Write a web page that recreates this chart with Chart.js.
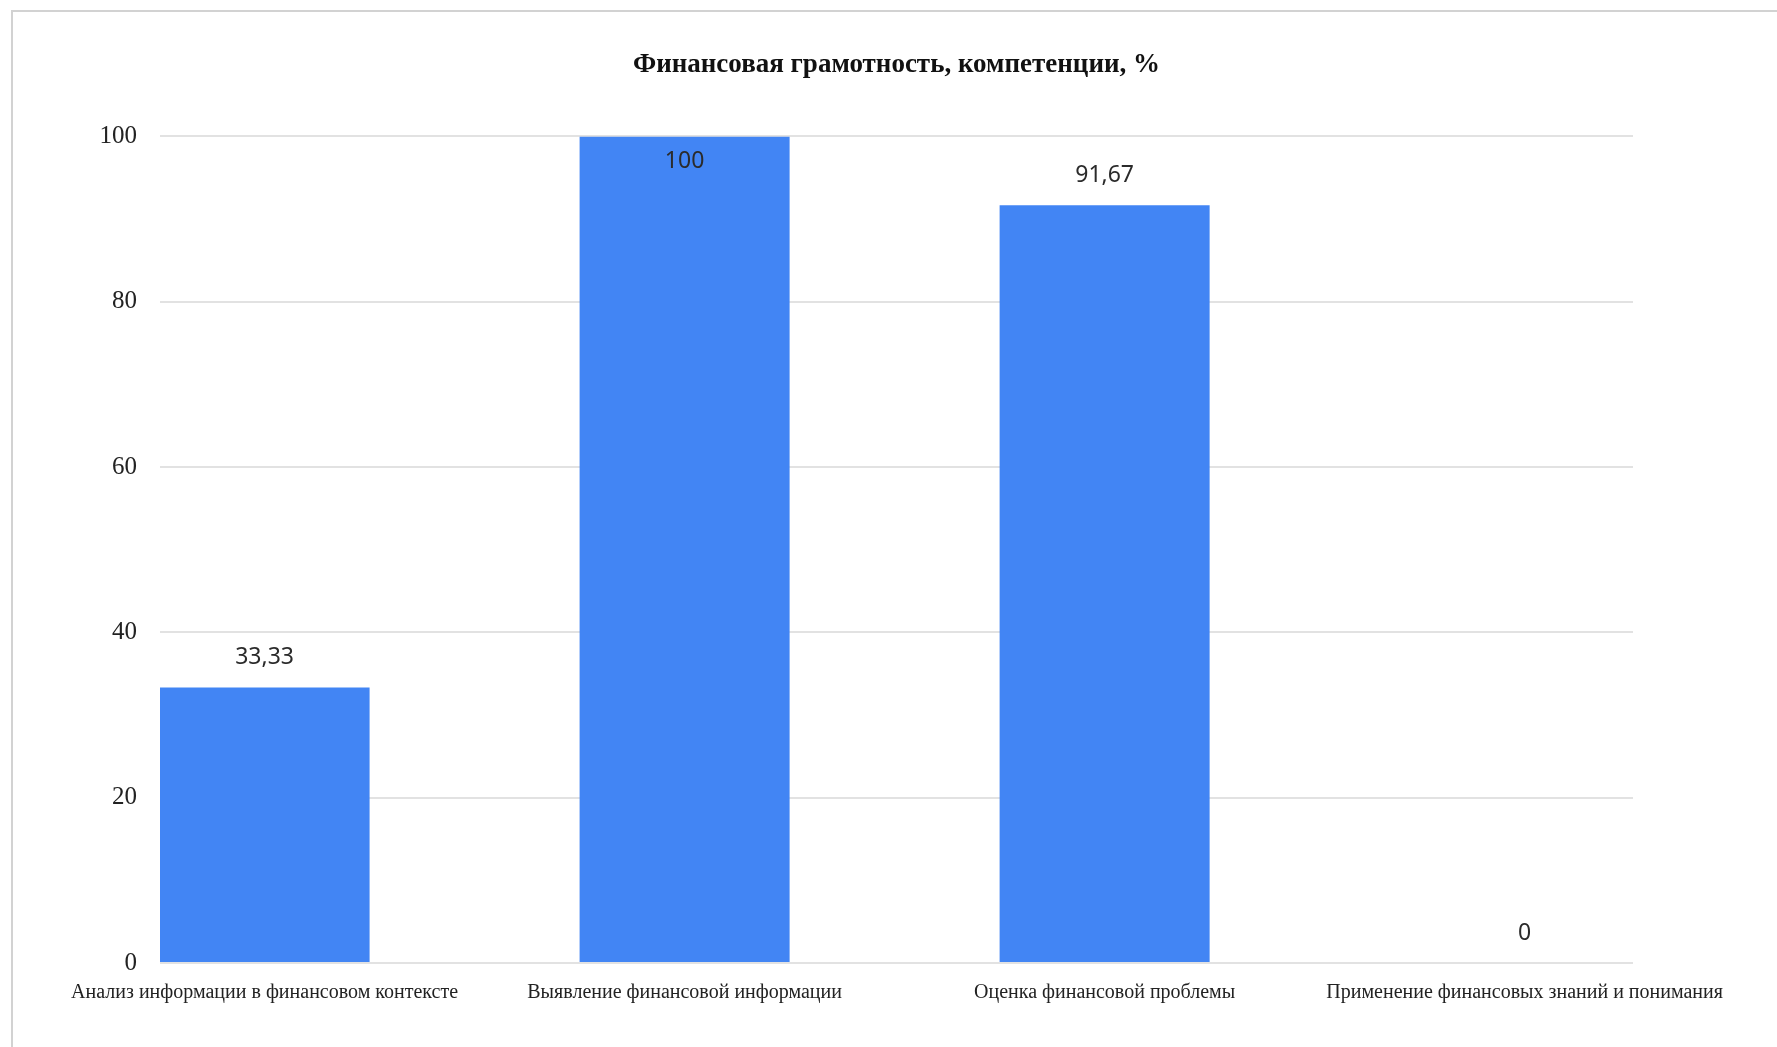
<!DOCTYPE html>
<html>
<head>
<meta charset="utf-8">
<title>Финансовая грамотность</title>
<script src="https://cdn.jsdelivr.net/npm/chart.js@4"></script>
<style>
  html, body { margin: 0; padding: 0; background: #fff; }
  #frame {
    position: absolute; left: 11px; top: 10px; right: 0; bottom: 0;
    border-left: 2px solid #d2d2d2; border-top: 2px solid #d2d2d2;
  }
  #wrap { position: absolute; left: 0; top: 0; width: 1777px; height: 1047px; }
</style>
</head>
<body>
<div id="frame"></div>
<div id="wrap"><canvas id="chart"></canvas></div>
<script>
const title = "Финансовая грамотность, компетенции, %";
const categories = [
  "Анализ информации в финансовом контексте",
  "Выявление финансовой информации",
  "Оценка финансовой проблемы",
  "Применение финансовых знаний и понимания",
];
const values = [33.33, 100, 91.67, 0];
const yMin = 0;
const yMax = 100;
const yStep = 20;

const BAR_COLOR = "#4285F4";
const TEXT_COLOR = "#222222";

// value labels above the bars (inside the bar when there is no room on top)
const valueLabels = {
  id: "valueLabels",
  afterDatasetsDraw(chart) {
    const ctx = chart.ctx;
    const meta = chart.getDatasetMeta(0);
    ctx.save();
    ctx.font = "23px 'Noto Sans', 'Liberation Sans', sans-serif";
    ctx.fillStyle = "#2b2b2b";
    ctx.textAlign = "center";
    ctx.textBaseline = "middle";
    meta.data.forEach((bar, i) => {
      const text = String(values[i]).replace(".", ",");
      let y = bar.y - 30;
      if (y - 14 < chart.chartArea.top) y = bar.y + 25;
      ctx.fillText(text, bar.x, y);
    });
    ctx.restore();
  },
};

const canvas = document.getElementById("chart");

const chart = new Chart(canvas, {
  type: "bar",
  data: {
    datasets: [
      {
        data: values.map((v, i) => ({ x: i, y: v })),
        backgroundColor: BAR_COLOR,
        borderWidth: 0,
        categoryPercentage: 1,
        barPercentage: 0.5,
      },
    ],
  },
  options: {
    responsive: true,
    maintainAspectRatio: false,
    animation: false,
    layout: { padding: { left: 0, right: 144, top: 0, bottom: 24 } },
    plugins: {
      legend: { display: false },
      tooltip: { enabled: false },
      title: {
        display: true,
        text: title,
        fullSize: false,
        color: "#111",
        font: { family: "'Liberation Serif', serif", size: 27, weight: "bold" },
        padding: { top: 49, bottom: 55 },
      },
    },
    scales: {
      x: {
        type: "linear",
        offset: false,
        min: -0.249,
        max: 3.258,
        grid: { display: false, drawTicks: false },
        border: { display: false },
        ticks: {
          stepSize: 1,
          includeBounds: false,
          autoSkip: false,
          maxRotation: 0,
          minRotation: 0,
          padding: 18,
          color: TEXT_COLOR,
          font: { family: "'Liberation Serif', serif", size: 20 },
          callback: (v) => (Number.isInteger(v) ? categories[v] : ""),
        },
      },
      y: {
        min: yMin,
        max: yMax,
        grid: { color: "#e2e2e2", lineWidth: 2, drawTicks: false },
        border: { display: false },
        ticks: {
          stepSize: yStep,
          padding: 23,
          color: TEXT_COLOR,
          font: { family: "'Liberation Serif', serif", size: 25 },
        },
        afterFit: (scale) => { scale.width = 160; },
      },
    },
  },
  plugins: [valueLabels],
});
</script>
</body>
</html>
